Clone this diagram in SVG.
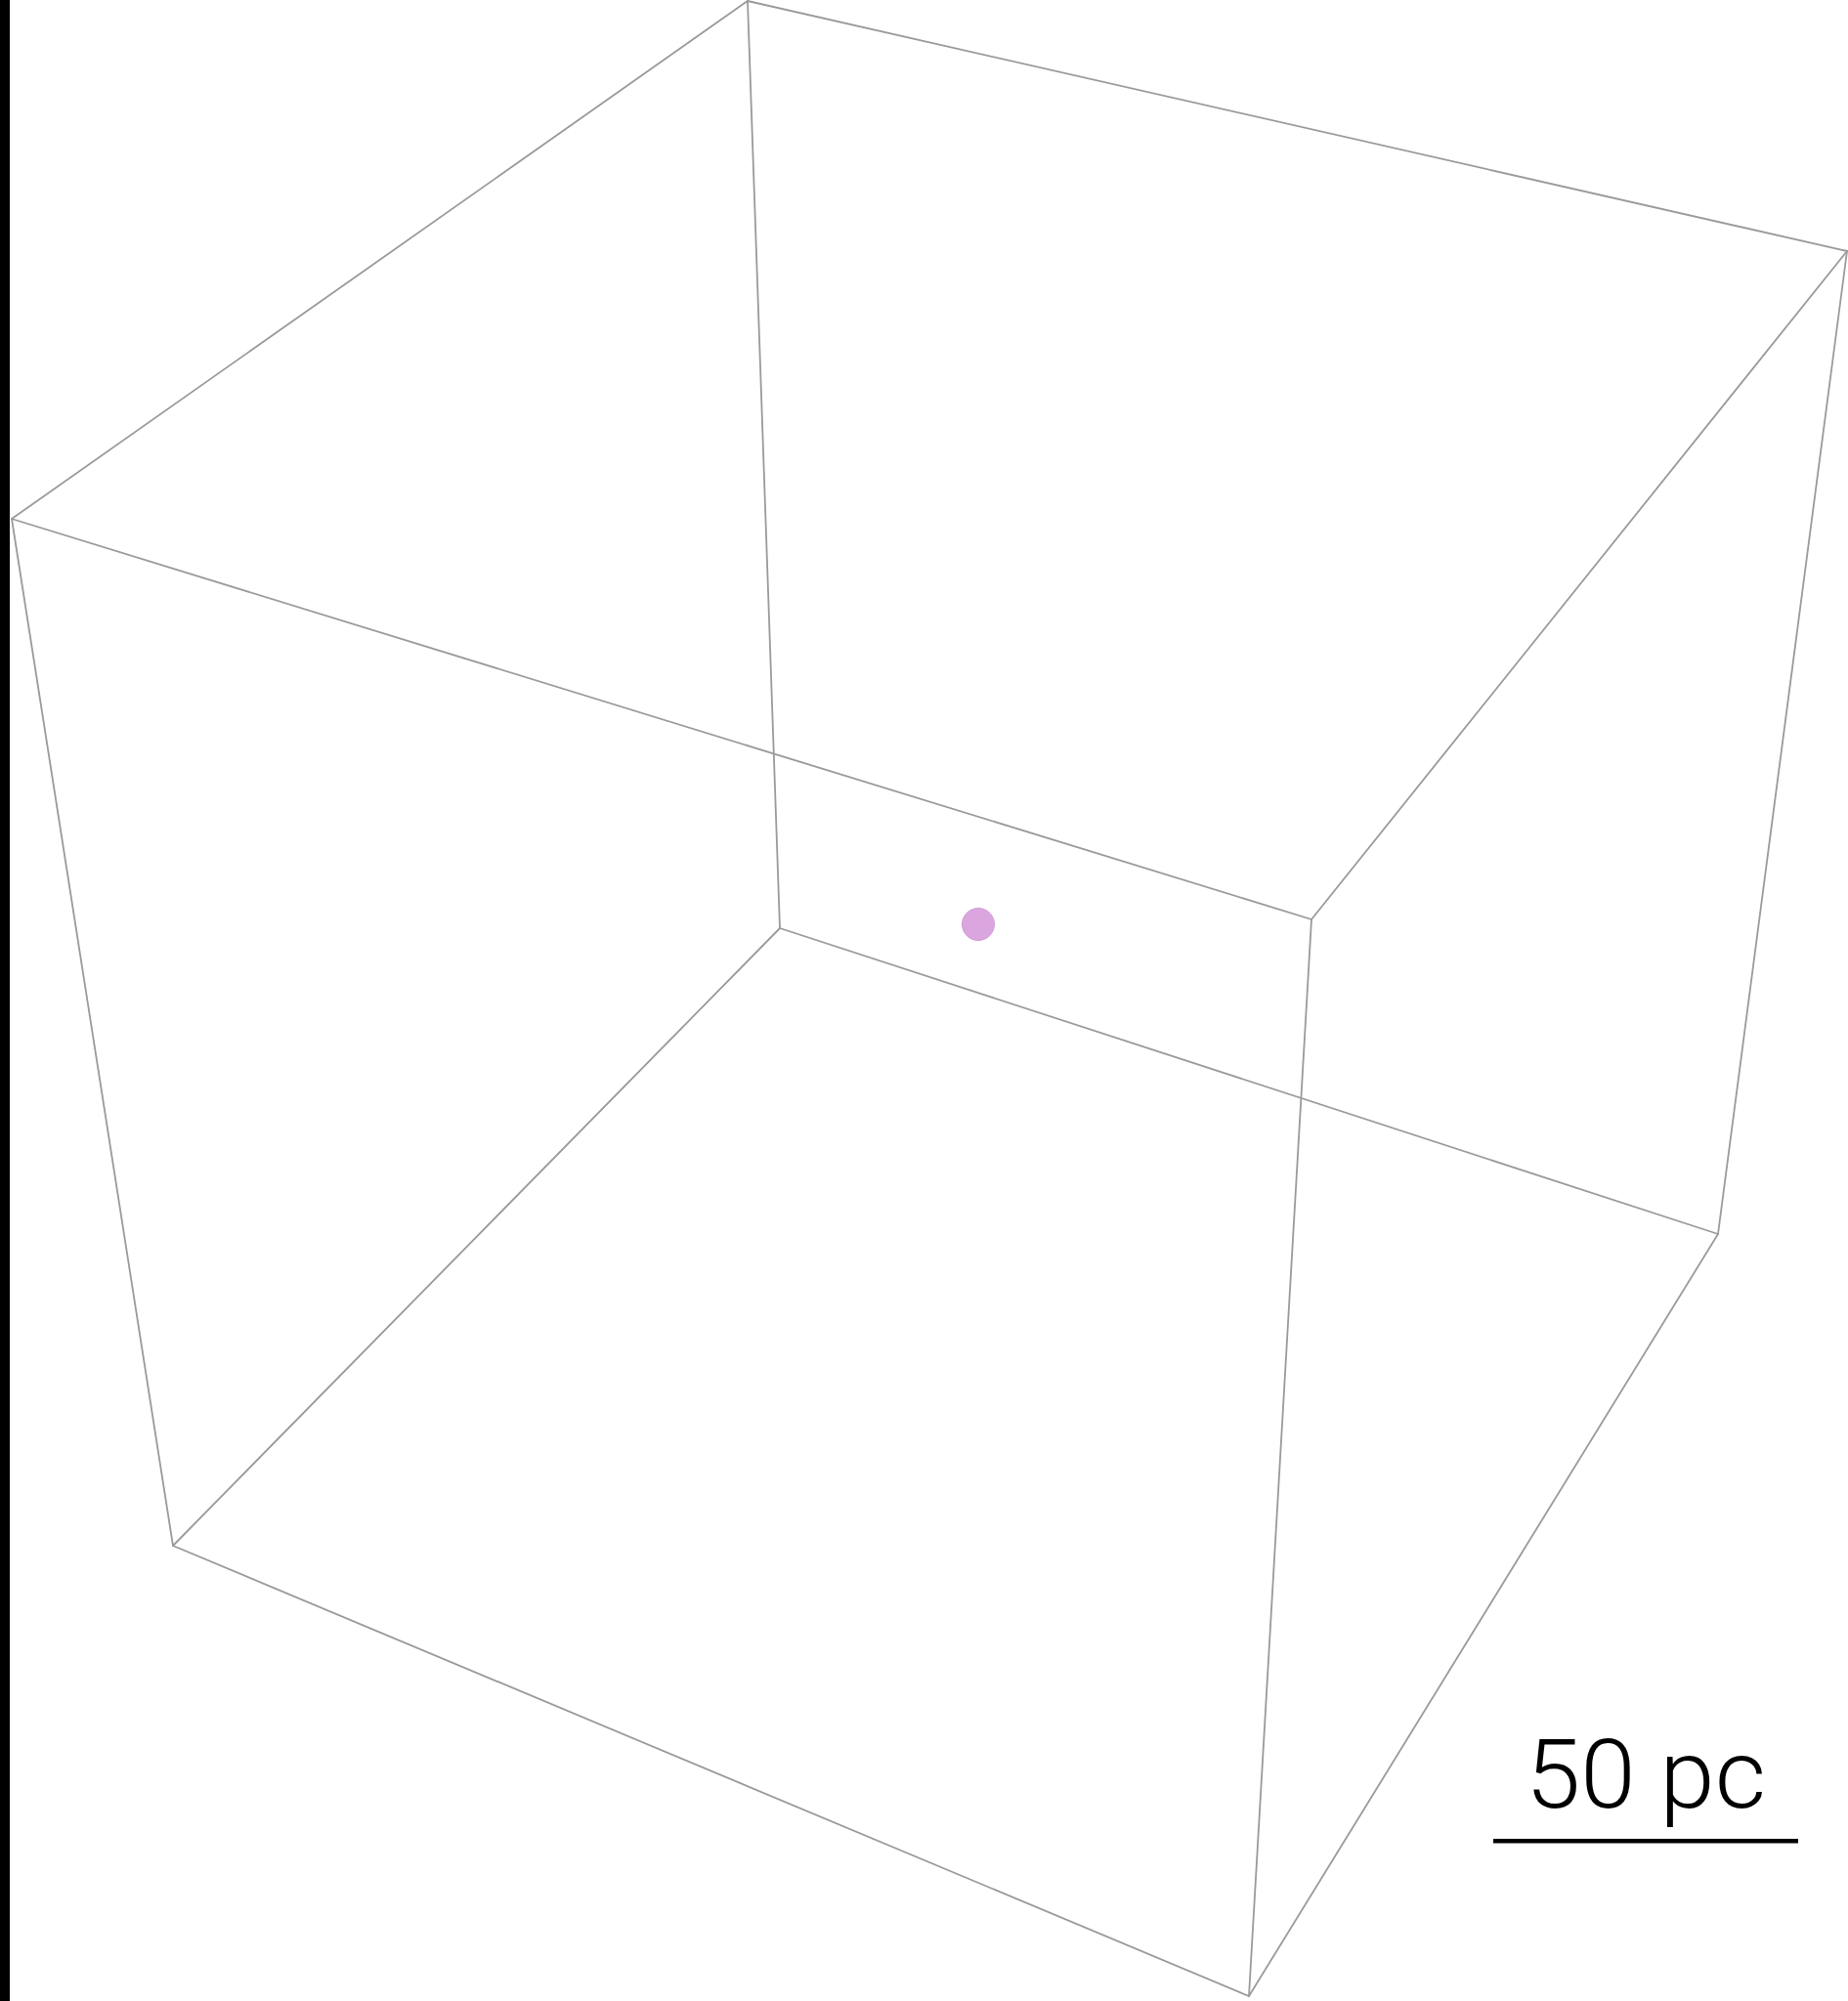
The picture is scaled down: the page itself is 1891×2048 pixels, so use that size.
<svg xmlns="http://www.w3.org/2000/svg" width="1891" height="2048" viewBox="0 0 1891 2048">
<style>
.edge{stroke:#9a9a9a;stroke-width:1.8;fill:none;stroke-linecap:round}
.label{font-family:Roboto,"Liberation Sans",sans-serif;font-weight:300;font-size:98px;fill:#000}
</style>
<rect x="0" y="0" width="1891" height="2048" fill="#ffffff"/>
<rect x="0" y="0" width="10" height="2048" fill="#000000"/>
<g id="edges">
<line class="edge" x1="12" y1="531" x2="765" y2="1"/>
<line class="edge" x1="765" y1="1" x2="1890" y2="257"/>
<line class="edge" x1="765" y1="1" x2="798" y2="950"/>
<line class="edge" x1="12" y1="531" x2="1342" y2="941"/>
<line class="edge" x1="1342" y1="941" x2="1890" y2="257"/>
<line class="edge" x1="1890" y1="257" x2="1758" y2="1263"/>
<line class="edge" x1="12" y1="531" x2="177" y2="1582"/>
<line class="edge" x1="1342" y1="941" x2="1278" y2="2043"/>
<line class="edge" x1="798" y1="950" x2="177" y2="1582"/>
<line class="edge" x1="798" y1="950" x2="1758" y2="1263"/>
<line class="edge" x1="177" y1="1582" x2="1278" y2="2043"/>
<line class="edge" x1="1278" y1="2043" x2="1758" y2="1263"/>
</g>
<g id="point">
<circle cx="1001" cy="946" r="16.5" fill="#dba6df" stroke="#d29cd6" stroke-width="1"/>
</g>
<g id="scalebar">
<text class="label" x="1561" y="1850" textLength="246" lengthAdjust="spacingAndGlyphs">50 pc</text>
<rect x="1528" y="1882" width="312" height="4.5" fill="#000"/>
</g>
</svg>
